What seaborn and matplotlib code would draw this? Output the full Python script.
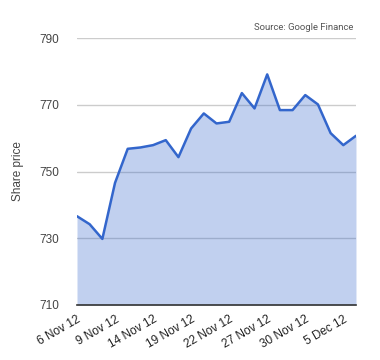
import pandas as pd
import matplotlib
matplotlib.use('Agg')
import matplotlib.pyplot as plt
import seaborn as sns

# Trading days shown on the chart
dates = ['6 Nov 12', '7 Nov 12', '8 Nov 12', '9 Nov 12', '12 Nov 12', '13 Nov 12',
         '14 Nov 12', '15 Nov 12', '16 Nov 12', '19 Nov 12', '20 Nov 12', '21 Nov 12',
         '22 Nov 12', '23 Nov 12', '26 Nov 12', '27 Nov 12', '28 Nov 12', '29 Nov 12',
         '30 Nov 12', '3 Dec 12', '4 Dec 12', '5 Dec 12', '6 Dec 12']
# Share price
prices = [736.6, 734.2, 729.8, 746.6, 756.8, 757.2, 757.9, 759.4, 754.3, 762.9,
          767.4, 764.4, 764.9, 773.5, 768.9, 779.1, 768.4, 768.4, 772.9, 770.1,
          761.5, 757.9, 760.7]
y_ticks = [710, 730, 750, 770, 790]

df = pd.DataFrame({'date': dates, 'price': prices})
df['idx'] = range(len(df))

sns.set_style("white")
plt.rcParams['font.family'] = ['Liberation Sans', 'DejaVu Sans']

fig, ax = plt.subplots(figsize=(3.8, 3.6), dpi=100)
fig.subplots_adjust(left=0.2026, right=0.9368, top=0.8944, bottom=0.1528)

# Grid first, then the translucent area on top of it
ax.set_axisbelow(True)
ax.yaxis.grid(True, color='#cccccc', linewidth=1)
ax.fill_between(df['idx'], df['price'], 710, color='#3366cc', alpha=0.3, linewidth=0)
sns.lineplot(x='idx', y='price', data=df, ax=ax, color='#3366cc', linewidth=1.8)

ax.set_xlim(0, len(df) - 1)
ax.set_ylim(710, 790)
ax.set_yticks(y_ticks)
ax.set_yticklabels([str(t) for t in y_ticks], color='#444444', fontsize=8.5)

tick_pos = df['idx'][::3]
ax.set_xticks(tick_pos)
ax.set_xticklabels(df['date'][::3], rotation=30, ha='right', rotation_mode='anchor',
                   color='#222222', fontsize=8.5)
ax.tick_params(axis='y', length=0, pad=13)
ax.tick_params(axis='x', length=0, pad=6)

ax.set_xlabel('')
ax.set_ylabel('Share price', color='#444444', fontsize=8.5, labelpad=11)

for side in ['top', 'left', 'right']:
    ax.spines[side].set_visible(False)
ax.spines['bottom'].set_color('#333333')
ax.spines['bottom'].set_linewidth(1.2)

fig.text(0.929, 0.925, 'Source: Google Finance', ha='right', va='center',
         fontsize=6.8, color='#555555', family=['Roboto', 'DejaVu Sans'])

plt.savefig('out.png', dpi=100)
